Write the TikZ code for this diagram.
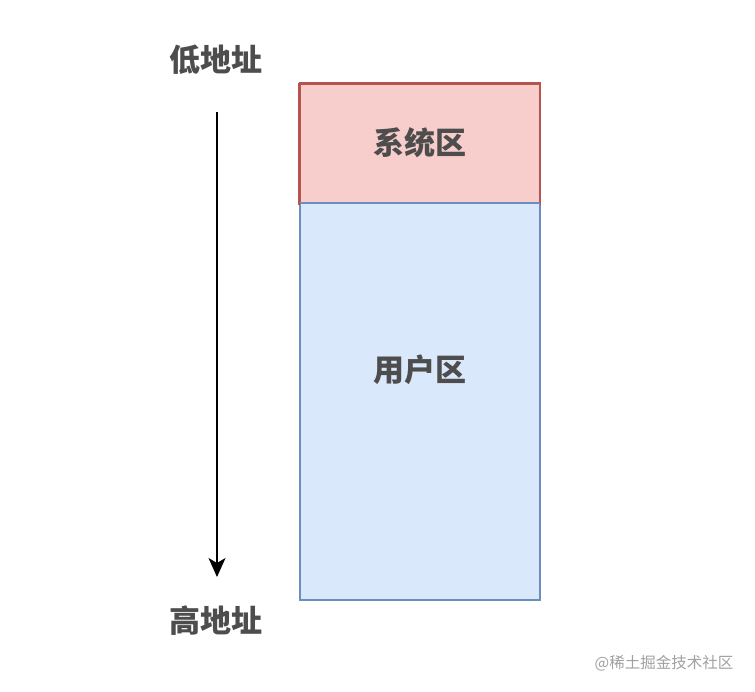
\documentclass[tikz,border=0pt]{standalone}
\usepackage{fontspec}
\usetikzlibrary{arrows.meta}
\newfontfamily\cjk{Noto Sans CJK SC}
\definecolor{txt}{HTML}{4D4D4D}
\definecolor{redfill}{HTML}{F8CECC}
\definecolor{redline}{HTML}{B85450}
\definecolor{bluefill}{HTML}{DAE8FC}
\definecolor{blueline}{HTML}{6C8EBF}
\definecolor{wm}{HTML}{A0A0A0}
\tikzset{
  label/.style={font=\cjk\bfseries\fontsize{31}{31}\selectfont, text=txt, inner sep=0pt},
  region/.style={draw, line width=1.5pt, inner sep=0pt, anchor=north west},
}
\begin{document}
\begin{tikzpicture}[x=1pt,y=-1pt]
\useasboundingbox (0,0) rectangle (755,691);
\node[label] (low) at (216,60) {低地址};
\node[label] (high) at (216,621) {高地址};
\coordinate (astart) at (217,112);
\coordinate (aend) at (217,577);
\draw[line width=1.5pt, -{Stealth[length=19pt,width=17pt,inset=5pt]}] (astart) -- (aend);
\node[region, fill=redfill, draw=redline, minimum width=240pt, minimum height=120pt] (sys) at (299,83) {};
\node[region, fill=bluefill, draw=blueline, minimum width=240pt, minimum height=397pt] (user) at (299,202) {};
\draw[redline, line width=1.5pt] (sys.north west) -- (sys.south west) (sys.north west) -- (sys.north east) -- (sys.south east);
\node[label] (systxt) at ([yshift=1pt]sys.center) {系统区};
\node[label] (usertxt) at (420,370) {用户区};
\node[font=\cjk\fontsize{15.5}{16}\selectfont, text=wm, inner sep=0pt] (wmk) at (664,663) {@稀土掘金技术社区};
\end{tikzpicture}
\end{document}
